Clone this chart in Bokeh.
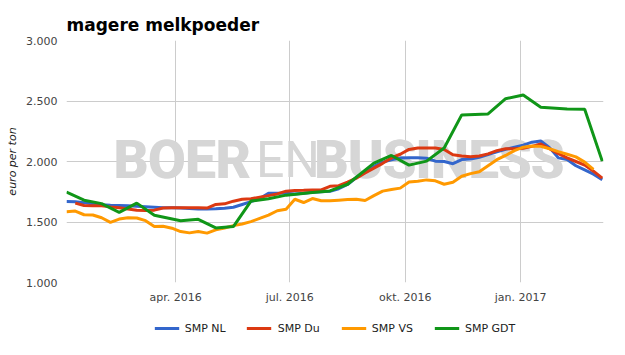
import pandas as pd
from bokeh.plotting import figure
from bokeh.layouts import column
from bokeh.models import (Range1d, FixedTicker, CustomJSTickFormatter, Legend,
                          LegendItem, Label, Title)
from bokeh.embed import file_html
from bokeh.resources import INLINE

# ---------------- data ----------------
week_start = "2016-01-05"
n_weeks = 62
week_dates = list(pd.date_range(week_start, periods=n_weeks, freq="7D"))

smp_nl = [1670, 1668, 1660, 1648, 1642, 1638, 1636, 1634, 1630, 1626,
          1622, 1618, 1617, 1615, 1612, 1608, 1607, 1610, 1614, 1622,
          1645, 1668, 1694, 1738, 1738, 1738, 1732, 1738, 1745, 1750,
          1754, 1775, 1810, 1868, 1915, 1960, 1995, 2015, 2028, 2030,
          2030, 2027, 2003, 2000, 1982, 2016, 2020, 2035, 2057, 2080,
          2100, 2118, 2135, 2160, 2170, 2115, 2030, 2016, 1965, 1930,
          1895, 1850]

# SMP Du starts one week later
smp_du = [1656, 1636, 1634, 1634, 1625, 1617, 1608, 1598, 1596,
          1598, 1615, 1617, 1617, 1617, 1617, 1615, 1645, 1650, 1672,
          1688, 1692, 1705, 1718, 1732, 1755, 1760, 1762, 1765, 1765,
          1795, 1800, 1830, 1862, 1905, 1945, 1985, 2030, 2060, 2100,
          2112, 2112, 2112, 2100, 2055, 2046, 2040, 2045, 2063, 2090,
          2105, 2106, 2110, 2125, 2145, 2105, 2065, 2030, 2000, 1970,
          1920, 1862]

# SMP VS ends one week earlier
smp_vs = [1585, 1590, 1560, 1558, 1535, 1497, 1524, 1535, 1533, 1511,
          1462, 1465, 1449, 1421, 1410, 1421, 1408, 1435, 1451, 1470,
          1484, 1503, 1530, 1557, 1593, 1606, 1688, 1661, 1694, 1675,
          1675, 1680, 1685, 1688, 1678, 1718, 1755, 1768, 1780, 1830,
          1836, 1848, 1840, 1812, 1828, 1878, 1900, 1915, 1965, 2015,
          2050, 2090, 2118, 2128, 2125, 2105, 2082, 2060, 2038, 1995,
          1935]

gdt_dates = ["2016-01-05", "2016-01-19", "2016-02-02", "2016-02-16",
             "2016-03-01", "2016-03-15", "2016-04-05", "2016-04-19",
             "2016-05-03", "2016-05-17", "2016-05-31", "2016-06-14",
             "2016-06-28", "2016-07-19", "2016-08-02", "2016-08-16",
             "2016-09-06", "2016-09-20", "2016-10-04", "2016-10-18",
             "2016-11-01", "2016-11-15", "2016-12-06", "2016-12-20",
             "2017-01-03", "2017-01-17", "2017-02-07", "2017-02-21",
             "2017-03-07"]
smp_gdt = [1748, 1680, 1652, 1580, 1656, 1555, 1511, 1522, 1451, 1462,
           1673, 1692, 1722, 1743, 1757, 1812, 1986, 2050, 1970, 2003,
           2112, 2385, 2393, 2519, 2549, 2448, 2434, 2432, 2003]

series_names = ["SMP NL", "SMP Du", "SMP VS", "SMP GDT"]
series_colors = ["#3366cc", "#dc3912", "#ff9900", "#109618"]

tick_dates = ["2016-04-01", "2016-07-01", "2016-10-01", "2017-01-01"]
month_names = ["jan.", "feb.", "mrt.", "apr.", "mei", "jun.", "jul.",
               "aug.", "sep.", "okt.", "nov.", "dec."]
y_ticks = [1000, 1500, 2000, 2500, 3000]

title_text = "magere melkpoeder"
y_label = "euro per ton"
x_start, x_end = "2016-01-05", "2017-03-08"

FONT = "DejaVu Sans"

def ms(d):
    return pd.Timestamp(d).value / 1e6

series = [
    (week_dates, smp_nl),
    (week_dates[1:1 + len(smp_du)], smp_du),
    (week_dates[:len(smp_vs)], smp_vs),
    ([pd.Timestamp(d) for d in gdt_dates], smp_gdt),
]

# ---------------- main figure ----------------
p = figure(width=625, height=306, x_axis_type="datetime",
           output_backend="svg", toolbar_location=None,
           min_border_left=66, min_border_right=22,
           min_border_top=40, min_border_bottom=22)
p.x_range = Range1d(ms(x_start), ms(x_end))
p.y_range = Range1d(1000, 3000)
p.outline_line_color = None
p.background_fill_color = "white"
p.border_fill_color = "white"

p.title = Title(text=title_text, text_font=FONT, text_font_size="17px",
                text_font_style="bold", text_color="#000000", standoff=12)

# axes
p.xaxis.ticker = FixedTicker(ticks=[ms(d) for d in tick_dates])
p.xaxis.formatter = CustomJSTickFormatter(args=dict(m=month_names), code="""
    const d = new Date(tick);
    return m[d.getUTCMonth()] + ' ' + d.getUTCFullYear();
""")
p.yaxis.ticker = FixedTicker(ticks=y_ticks)
p.yaxis.formatter = CustomJSTickFormatter(code="return (tick/1000).toFixed(3);")
for ax in (p.xaxis, p.yaxis):
    ax.axis_line_color = None
    ax.major_tick_line_color = None
    ax.minor_tick_line_color = None
    ax.major_tick_out = 0
    ax.major_tick_in = 0
    ax.major_label_text_font = FONT
    ax.major_label_text_font_size = "11px"
    ax.major_label_text_color = "#444444"
p.xaxis.major_label_standoff = 8
p.yaxis.major_label_standoff = 9
p.yaxis.axis_label = y_label
p.yaxis.axis_label_text_font = FONT
p.yaxis.axis_label_text_font_size = "11px"
p.yaxis.axis_label_text_font_style = "italic"
p.yaxis.axis_label_text_color = "#222222"
p.yaxis.axis_label_standoff = 4

p.xgrid.grid_line_color = "#cccccc"
p.ygrid.grid_line_color = "#cccccc"
p.xgrid.ticker = FixedTicker(ticks=[ms(d) for d in tick_dates])
p.ygrid.ticker = FixedTicker(ticks=y_ticks)

# watermark (drawn twice with a small offset to make it heavier)
wm_y = 2015
WM_FONT = "Roboto"
for txt, xd, style, size in [("BOER", "2016-02-11", "bold", "54px"),
                             ("EN", "2016-06-04", "normal", "50px"),
                             ("BUSINESS", "2016-07-20", "bold", "53px")]:
    for dx in ([0, 1.5] if style == "bold" else [0]):
        p.add_layout(Label(x=ms(xd), y=wm_y, x_offset=dx, text=txt,
                           text_font=WM_FONT, text_font_size=size,
                           text_font_style=style, text_color="#d6d6d6",
                           text_align="left", text_baseline="alphabetic",
                           level="underlay"))

# lines
for (xs, ys), col in zip(series, series_colors):
    p.line(xs, ys, line_color=col, line_width=3)

# ---------------- legend strip ----------------
lg = figure(width=625, height=49, x_axis_type="datetime",
            output_backend="svg", toolbar_location=None,
            x_axis_location=None, y_axis_location=None,
            min_border_left=57, min_border_right=22,
            min_border_top=0, min_border_bottom=5)
lg.x_range = Range1d(ms(x_start), ms(x_end))
lg.y_range = Range1d(0, 1)          # series lie outside: only legend shows
lg.outline_line_color = None
lg.grid.visible = False
lg.border_fill_color = "white"
items = []
for (xs, ys), col, name in zip(series, series_colors, series_names):
    r = lg.line(xs, ys, line_color=col, line_width=3)
    items.append(LegendItem(label=name, renderers=[r]))
legend = Legend(items=items, orientation="horizontal", location="center",
                label_text_font=FONT, label_text_font_size="11px",
                label_text_color="#222222", glyph_width=25, glyph_height=20,
                label_height=20, label_standoff=6, spacing=21, padding=4,
                margin=0, border_line_color=None, background_fill_alpha=0)
lg.add_layout(legend, "center")

layout = column(p, lg, spacing=0)
open("out.html", "w").write(file_html(layout, INLINE))
